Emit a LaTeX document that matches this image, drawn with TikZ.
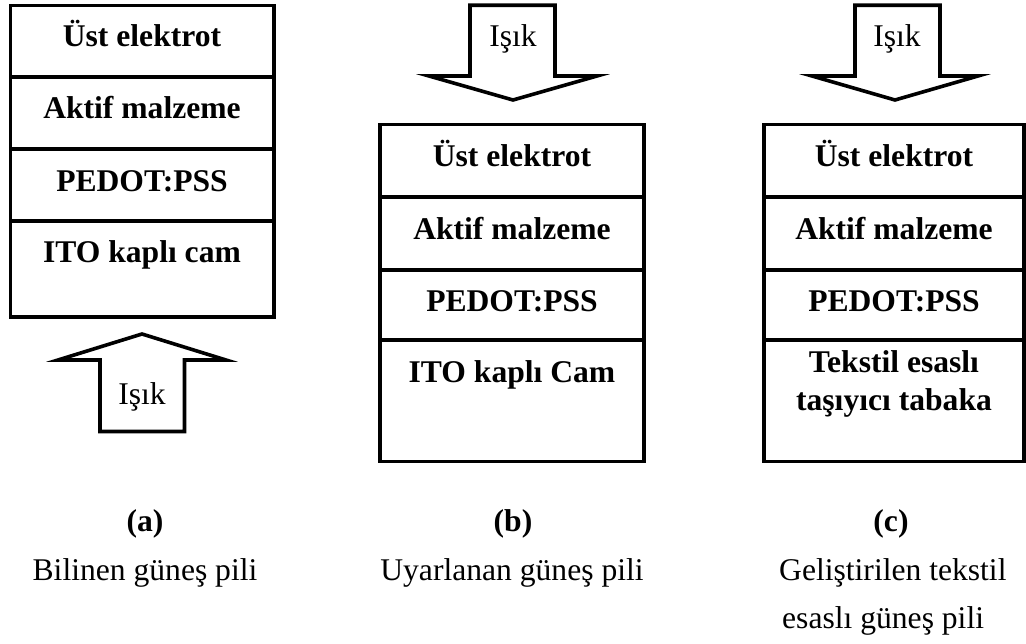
\documentclass[tikz,border=0pt]{standalone}
\usepackage{fontspec}
\setmainfont{Liberation Serif}
\begin{document}
\begin{tikzpicture}[x=1pt,y=-1pt,line join=miter,
  frame/.style={draw=black,line width=3.8pt},
  beam/.style={draw=black,line width=3.6pt,fill=white},
  layer/.style={font=\fontsize{31.6}{37}\selectfont\bfseries,anchor=base,inner sep=0pt},
  lightlabel/.style={font=\fontsize{31.6}{37}\selectfont,anchor=base,inner sep=0pt},
  tag/.style={font=\fontsize{31.6}{37}\selectfont\bfseries,anchor=base,inner sep=0pt},
  caption/.style={font=\fontsize{31.6}{37}\selectfont,anchor=base,inner sep=0pt}]
\useasboundingbox (0,0) rectangle (1026,644);

% ---------- (a) conventional cell, light from below ----------
\draw[frame] (10.5,5.5) rectangle (274,317);
\draw[frame] (10.5,77) -- (274,77);
\draw[frame] (10.5,149) -- (274,149);
\draw[frame] (10.5,221) -- (274,221);
\node[layer] (a1) at (142,47)  {Üst elektrot};
\node[layer] (a2) at (142,119) {Aktif malzeme};
\node[layer] (a3) at (142,192) {PEDOT:PSS};
\node[layer] (a4) at (142,263) {ITO kaplı cam};

\draw[beam] (100,431.5) -- (184.5,431.5) -- (184.5,360) -- (226,360)
  -- (142,334) -- (58,360) -- (100,360) -- cycle;
\node[lightlabel] (la) at (142,405) {Işık};

% ---------- (b) adapted cell, light from above ----------
\draw[frame] (380,124.5) rectangle (644,461.5);
\draw[frame] (380,197) -- (644,197);
\draw[frame] (380,270) -- (644,270);
\draw[frame] (380,340) -- (644,340);
\node[layer] (b1) at (512,167) {Üst elektrot};
\node[layer] (b2) at (512,240) {Aktif malzeme};
\node[layer] (b3) at (512,312) {PEDOT:PSS};
\node[layer] (b4) at (512,383) {ITO kaplı Cam};

\draw[beam] (470,5.3) -- (555,5.3) -- (555,76) -- (597,76)
  -- (513,100) -- (429,76) -- (470,76) -- cycle;
\node[lightlabel] (lb) at (513,47) {Işık};

% ---------- (c) textile based cell, light from above ----------
\draw[frame] (764,124.5) rectangle (1024,461.5);
\draw[frame] (764,197) -- (1024,197);
\draw[frame] (764,270) -- (1024,270);
\draw[frame] (764,340) -- (1024,340);
\node[layer] (c1) at (894,167) {Üst elektrot};
\node[layer] (c2) at (894,240) {Aktif malzeme};
\node[layer] (c3) at (894,312) {PEDOT:PSS};
\node[layer] (c4) at (894,373) {Tekstil esaslı};
\node[layer] (c5) at (894,410) {taşıyıcı tabaka};

\draw[beam] (855,5.3) -- (940,5.3) -- (940,76) -- (978,76)
  -- (895,100) -- (812,76) -- (855,76) -- cycle;
\node[lightlabel] (lc) at (897,47) {Işık};

% ---------- captions ----------
\node[tag] (ta) at (145,531) {(a)};
\node[tag] (tb) at (513,531) {(b)};
\node[tag] (tc) at (891,531) {(c)};
\node[caption] (ca) at (145,580) {Bilinen güneş pili};
\node[caption] (cb) at (512,580) {Uyarlanan güneş pili};
\node[caption,anchor=base west] (cc1) at (779,580) {Geliştirilen tekstil};
\node[caption,anchor=base west] (cc2) at (782,628) {esaslı güneş pili};
\end{tikzpicture}
\end{document}
